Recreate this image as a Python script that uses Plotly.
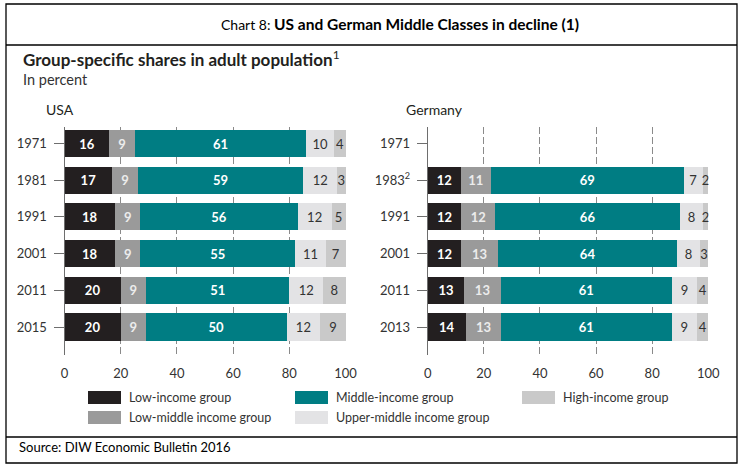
import plotly.graph_objects as go

# ---------------- data ----------------
groups = ["Low-income group", "Low-middle income group", "Middle-income group",
          "Upper-middle income group", "High-income group"]

us_years = ["1971", "1981", "1991", "2001", "2011", "2015"]
us_low = [16, 17, 18, 18, 20, 20]
us_lowmid = [9, 9, 9, 9, 9, 9]
us_mid = [61, 59, 56, 55, 51, 50]
us_upmid = [10, 12, 12, 11, 12, 12]
us_high = [4, 3, 5, 7, 8, 9]

de_years = ["1971", "1983<sup>2</sup>", "1991", "2001", "2011", "2013"]
de_low = [None, 11.8, 12, 12, 13, 13.6]
de_lowmid = [None, 10.7, 12, 13, 13, 12.6]
de_mid = [None, 68.7, 66, 64, 61, 60.7]
de_upmid = [None, 6.9, 8, 8, 9, 9.1]
de_high = [None, 1.9, 2, 3, 4, 4.0]

x_ticks = [0, 20, 40, 60, 80, 100]

# ---------------- style ----------------
W, H = 743, 468
colors = ["#231f20", "#9a9a9a", "#007d83", "#e3e3e5", "#c9c9c9"]
text_colors = ["#ffffff", "#ececec", "#ffffff", "#333333", "#333333"]
text_weights = ["bold", "bold", "bold", "normal", "normal"]
FONT = "Lato, Roboto, sans-serif"
TFONT = "Lato, Open Sans, sans-serif"


def px(x):
    return x / W


def py(y):
    return 1 - y / H


fig = go.Figure()

series_us = [us_low, us_lowmid, us_mid, us_upmid, us_high]
series_de = [de_low, de_lowmid, de_mid, de_upmid, de_high]

for i, g in enumerate(groups):
    tf = dict(color=text_colors[i], size=13, family=FONT, weight=text_weights[i])
    fig.add_trace(go.Bar(
        y=us_years, x=series_us[i], orientation="h", name=g,
        marker=dict(color=colors[i], line=dict(width=0)),
        texttemplate="%{x:.0f}", textposition="inside", insidetextanchor="middle",
        textangle=0, textfont=tf,
        xaxis="x", yaxis="y", showlegend=False, hoverinfo="skip"))
    pairs = [(y, v) for y, v in zip(de_years, series_de[i]) if v is not None]
    fig.add_trace(go.Bar(
        y=[p[0] for p in pairs], x=[p[1] for p in pairs], orientation="h", name=g,
        marker=dict(color=colors[i], line=dict(width=0)),
        texttemplate="%{x:.0f}", textposition="inside", insidetextanchor="middle",
        textangle=0, textfont=tf,
        xaxis="x2", yaxis="y2", showlegend=False, hoverinfo="skip"))

ydom = [py(355), py(126.7)]
yrange = [5.763, -0.458]

xcommon = dict(range=[0, 100.15], tickvals=x_ticks, showgrid=True, gridcolor="#8a8a8a",
               gridwidth=1, griddash="7px,3px", zeroline=False, showline=False, ticks="",
               tickfont=dict(family=FONT, size=13, color="#333333"), ticklabelstandoff=9,
               fixedrange=True)
ycommon = dict(type="category", range=yrange, showgrid=False, zeroline=False,
               showline=True, linecolor="#6e6e6e", linewidth=1,
               ticks="outside", ticklen=10, tickcolor="#6e6e6e", tickwidth=1,
               ticklabelstandoff=4, fixedrange=True,
               tickfont=dict(family=FONT, size=13, color="#333333"), domain=ydom)

fig.update_layout(
    autosize=True, margin=dict(l=0, r=0, t=0, b=0, autoexpand=False),
    paper_bgcolor="white", plot_bgcolor="white",
    barmode="stack", bargap=0.26,
    uniformtext=dict(minsize=13, mode="show"),
    xaxis=dict(domain=[px(64.5), px(346)], anchor="y", **xcommon),
    yaxis=dict(anchor="x", categoryorder="array", categoryarray=us_years, **ycommon),
    xaxis2=dict(domain=[px(427.7), px(708.7)], anchor="y2", **xcommon),
    yaxis2=dict(anchor="x2", categoryorder="array", categoryarray=de_years, **ycommon),
    showlegend=False, hovermode=False,
)

# ---------------- frame lines ----------------
line = dict(color="#000000", width=1.3)
fig.add_shape(type="rect", xref="paper", yref="paper", x0=px(6), x1=px(737),
              y0=py(463), y1=py(4), line=line)
for yy in (45, 437):
    fig.add_shape(type="line", xref="paper", yref="paper", x0=px(6), x1=px(737),
                  y0=py(yy), y1=py(yy), line=line)

# ---------------- texts ----------------
fig.add_annotation(xref="paper", yref="paper", x=px(400), y=py(24), showarrow=False,
                   xanchor="center", yanchor="middle",
                   text="<span style='font-size:14px'>Chart 8: </span><b>US and German Middle Classes in decline (1)</b>",
                   font=dict(family=TFONT, size=15.5, color="#000000"))
fig.add_annotation(xref="paper", yref="paper", x=px(21), y=py(58), showarrow=False,
                   xanchor="left", yanchor="middle",
                   text="<b>Group-specific shares in adult population</b><sup>1</sup>",
                   font=dict(family=TFONT, size=17, color="#231f20"))
fig.add_annotation(xref="paper", yref="paper", x=px(21), y=py(79), showarrow=False,
                   xanchor="left", yanchor="middle", text="In percent",
                   font=dict(family=TFONT, size=14.5, color="#333333"))
fig.add_annotation(xref="paper", yref="paper", x=px(44), y=py(109), showarrow=False,
                   xanchor="left", yanchor="middle", text="USA",
                   font=dict(family=FONT, size=14, color="#231f20"))
fig.add_annotation(xref="paper", yref="paper", x=px(404), y=py(109), showarrow=False,
                   xanchor="left", yanchor="middle", text="Germany",
                   font=dict(family=FONT, size=14, color="#231f20"))
fig.add_annotation(xref="paper", yref="paper", x=px(17), y=py(447), showarrow=False,
                   xanchor="left", yanchor="middle", text="Source: DIW Economic Bulletin 2016",
                   font=dict(family=TFONT, size=13, color="#000000"))

# ---------------- legend (manual) ----------------
legend_pos = {0: (88, 391), 2: (295, 391), 4: (522, 391), 1: (88, 411), 3: (295, 411)}
for i, g in enumerate(groups):
    x0, y0 = legend_pos[i]
    fig.add_shape(type="rect", xref="paper", yref="paper", x0=px(x0), x1=px(x0 + 33),
                  y0=py(y0 + 13), y1=py(y0), fillcolor=colors[i], line=dict(width=0))
    fig.add_annotation(xref="paper", yref="paper", x=px(x0 + 39), y=py(y0 + 6.5),
                       showarrow=False, xanchor="left", yanchor="middle", text=g,
                       font=dict(family=FONT, size=12.5, color="#333333"))

post = (
    "document.documentElement.style.overflow='hidden';"
    "document.documentElement.style.margin='0';"
    "document.body.style.margin='0';document.body.style.padding='0';"
    "document.body.style.overflow='hidden';"
    "var gd=document.getElementById('{plot_id}');"
    "gd.style.width='100vw';gd.style.height='100vh';"
    "Plotly.relayout(gd,{width:window.innerWidth,height:window.innerHeight});"
)
fig.write_html("out.html", default_width="100vw", default_height="100vh",
               config={"displayModeBar": False, "staticPlot": True},
               post_script=post)
